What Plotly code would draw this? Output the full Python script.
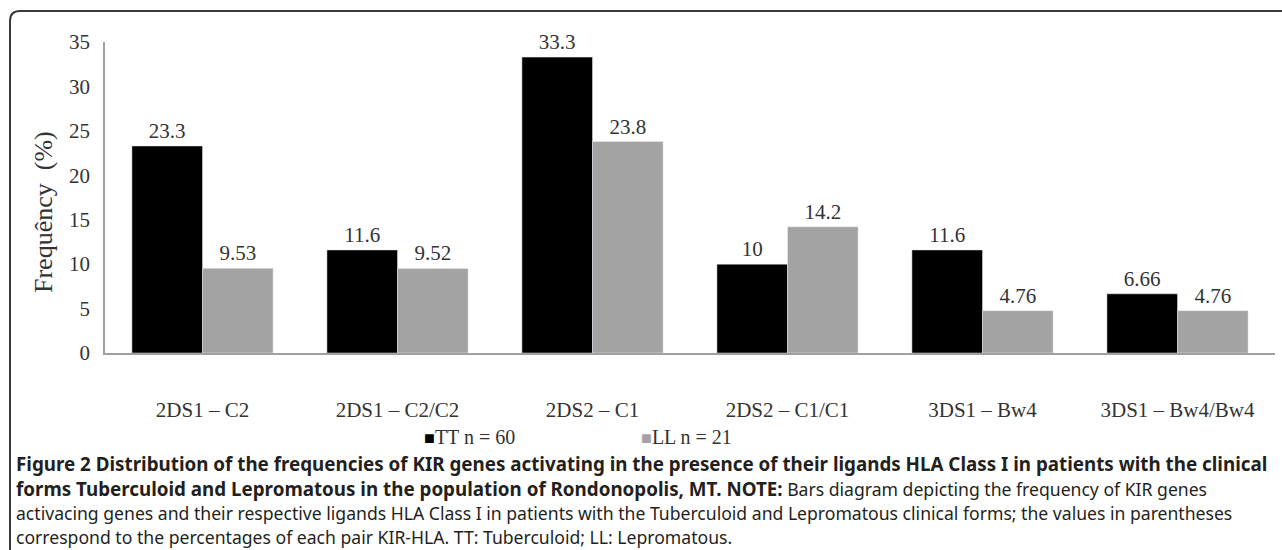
import plotly.graph_objects as go

categories = ["2DS1 – C2", "2DS1 – C2/C2", "2DS2 – C1", "2DS2 – C1/C1", "3DS1 – Bw4", "3DS1 – Bw4/Bw4"]
tt_values = [23.3, 11.6, 33.3, 10, 11.6, 6.66]
ll_values = [9.53, 9.52, 23.8, 14.2, 4.76, 4.76]
tt_labels = ["23.3", "11.6", "33.3", "10", "11.6", "6.66"]
ll_labels = ["9.53", "9.52", "23.8", "14.2", "4.76", "4.76"]
y_ticks = [0, 5, 10, 15, 20, 25, 30, 35]
series_names = ["TT n = 60", "LL n = 21"]
series_colors = ["#000000", "#a3a3a3"]

W, H = 1282, 550
L, R, T, B = 105, 1275, 42, 353

def px(x):
    return (x - L) / (R - L)

def py(y):
    return (B - y) / (B - T)

serif = "Liberation Serif"
txtc = "#333333"
fig = go.Figure()
for vals, labs, name, col in [(tt_values, tt_labels, series_names[0], series_colors[0]),
                              (ll_values, ll_labels, series_names[1], series_colors[1])]:
    fig.add_trace(go.Bar(x=categories, y=vals, name=name, marker_color=col,
                         text=labs, textposition="outside", cliponaxis=False,
                         textfont=dict(family=serif, size=21, color=txtc)))

fig.update_layout(
    width=W, height=H,
    margin=dict(l=L, r=W - R, t=T, b=H - B, autoexpand=False),
    paper_bgcolor="white", plot_bgcolor="white",
    barmode="group", bargap=0.276, bargroupgap=0,
    font=dict(family=serif, size=21, color=txtc),
    showlegend=False,
    xaxis=dict(showline=True, linecolor="#a0a0a0", linewidth=1.5, ticks="", showgrid=False,
               ticklabelstandoff=37,
               tickfont=dict(family=serif, size=21, color=txtc)),
    yaxis=dict(range=[0, 35], tickvals=y_ticks, showline=True, linecolor="#a0a0a0", linewidth=1.5,
               ticks="", showgrid=False, zeroline=False, ticklabelstandoff=9,
               tickfont=dict(family=serif, size=21, color=txtc)),
)

# Y axis title
fig.add_annotation(text="Frequêncy  (%)", xref="paper", yref="paper", x=px(43), y=py(212),
                   xanchor="center", yanchor="middle", textangle=-90, showarrow=False,
                   font=dict(family=serif, size=26, color=txtc))

# Legend drawn as text with coloured square glyphs
leg_x = [422, 639]
for name, col, lx in zip(series_names, series_colors, leg_x):
    fig.add_annotation(text=f"<span style='color:{col};font-size:18px'>■</span>{name}",
                       xref="paper", yref="paper", x=px(lx), y=py(437),
                       xanchor="left", yanchor="middle", showarrow=False,
                       font=dict(family=serif, size=20, color=txtc))

# Rounded border frame
fig.add_shape(type="path", xref="paper", yref="paper",
              path=f"M {px(10)} {py(600)} L {px(10)} {py(21)} Q {px(10)} {py(11)} {px(20)} {py(11)} L {px(1300)} {py(11)}",
              line=dict(color="#3a3a3a", width=2))

cap_font = "Noto Sans"
bs = "font-size:18.8px"
lines = [
    f"<b><span style='{bs}'>Figure 2 Distribution of the frequencies of KIR genes activating in the presence of their ligands HLA Class I in patients with the clinical</span></b>",
    f"<b><span style='{bs}'>forms Tuberculoid and Lepromatous in the population of Rondonopolis, MT. NOTE:</span></b> Bars diagram depicting the frequency of KIR genes",
    "activacing genes and their respective ligands HLA Class I in patients with the Tuberculoid and Lepromatous clinical forms; the values in parentheses",
    "correspond to the percentages of each pair KIR-HLA. TT: Tuberculoid; LL: Lepromatous.",
]
ys = [464, 489, 513, 537]
for txt, yy in zip(lines, ys):
    fig.add_annotation(text=txt, xref="paper", yref="paper", x=px(14), y=py(yy),
                       xanchor="left", yanchor="middle", showarrow=False, align="left",
                       font=dict(family=cap_font, size=17.6, color="#231f20"))

fig.write_html("out.html", config={"displayModeBar": False},
               post_script="document.body.style.margin='0';")
